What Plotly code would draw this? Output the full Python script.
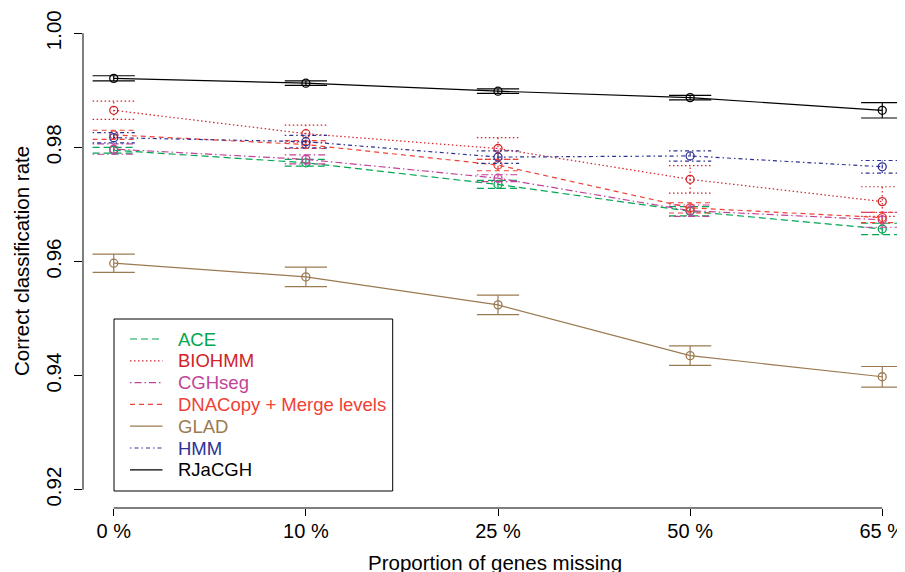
import plotly.graph_objects as go

# ---------------- data ----------------
categories = ["0 %", "10 %", "25 %", "50 %", "65 %"]
x_pos = [1, 2, 3, 4, 5]

method_names = ["ACE", "BIOHMM", "CGHseg", "DNACopy + Merge levels", "GLAD", "HMM", "RJaCGH"]

ace_rate = [0.9795, 0.9773, 0.9735, 0.9688, 0.9657]
ace_err = [0.0005, 0.0006, 0.0007, 0.0008, 0.0010]

biohmm_rate = [0.9865, 0.9824, 0.9798, 0.9744, 0.9705]
biohmm_err = [0.0016, 0.0015, 0.0019, 0.0024, 0.0026]

cghseg_rate = [0.9797, 0.9779, 0.9746, 0.9689, 0.9673]
cghseg_err = [0.0009, 0.0008, 0.0006, 0.0010, 0.0013]

dnacopy_rate = [0.9822, 0.9805, 0.9769, 0.9694, 0.9677]
dnacopy_err = [0.0008, 0.0007, 0.0010, 0.0009, 0.0009]

glad_rate = [0.9597, 0.9573, 0.9524, 0.9435, 0.9398]
glad_err = [0.0016, 0.0017, 0.0017, 0.0017, 0.0018]

hmm_rate = [0.9817, 0.9810, 0.9783, 0.9785, 0.9766]
hmm_err = [0.0009, 0.0011, 0.0011, 0.0009, 0.0011]

rjacgh_rate = [0.9921, 0.99125, 0.98985, 0.98872, 0.9865]
rjacgh_err = [0.00045, 0.0004, 0.0004, 0.0004, 0.00135]

y_ticks = [0.92, 0.94, 0.96, 0.98, 1.00]
y_tick_labels = ["0.92", "0.94", "0.96", "0.98", "1.00"]

x_title = "Proportion of genes missing"
y_title = "Correct classification rate"

# ---------------- styles ----------------
colors = ["#00A651", "#D2232A", "#C1449A", "#EF4136", "#9B7A52", "#2E3192", "#000000"]
dashes = ["7px,4px", "1.5px,2.5px", "1.5px,3px,7px,3px", "5px,4px", "solid",
          "1.5px,3px,4px,3px", "solid"]
rates = [ace_rate, biohmm_rate, cghseg_rate, dnacopy_rate, glad_rate, hmm_rate, rjacgh_rate]
errs = [ace_err, biohmm_err, cghseg_err, dnacopy_err, glad_err, hmm_err, rjacgh_err]

FONT = "Liberation Sans, Arial, Helvetica, sans-serif"
W, H = 905, 572
OFF = 8                      # page body margin offset in the browser
L, R, T, B = 75, 0, 7, 72    # plot area on screen: x 83..913, y 15..508
PW, PH = W - L - R, H - T - B
X_RANGE = [0.84, 5.16]
Y_RANGE = [0.9168, 1.0032]
CAP = 0.11  # half-width of error bar caps (x units)


def px_x(p):
    # screen pixel -> paper x
    return (p - (L + OFF)) / PW


def px_y(p):
    # screen pixel -> paper y
    return (H - B + OFF - p) / PH


fig = go.Figure()

for name, col, dsh, yv, ev in zip(method_names, colors, dashes, rates, errs):
    ex, ey = [], []
    for xi, yi, ei in zip(x_pos, yv, ev):
        ex += [xi, xi, None, xi - CAP, xi + CAP, None, xi - CAP, xi + CAP, None]
        ey += [yi - ei, yi + ei, None, yi + ei, yi + ei, None, yi - ei, yi - ei, None]
    fig.add_trace(go.Scatter(x=ex, y=ey, mode="lines", showlegend=False,
                             line=dict(color=col, width=1.2, dash=dsh),
                             hoverinfo="skip"))
    fig.add_trace(go.Scatter(x=x_pos, y=yv, mode="lines+markers", name=name,
                             showlegend=False,
                             line=dict(color=col, width=1.2, dash=dsh),
                             marker=dict(symbol="circle-open", size=8,
                                         color=col, line=dict(width=1.3, color=col))))

shapes = [
    dict(type="line", xref="x", yref="paper", x0=x_pos[0], x1=x_pos[-1], y0=0, y1=0,
         line=dict(color="black", width=1)),
    dict(type="line", xref="paper", yref="y", x0=0, x1=0, y0=y_ticks[0], y1=y_ticks[-1],
         line=dict(color="black", width=1)),
    # legend box
    dict(type="rect", xref="paper", yref="paper", x0=px_x(114), x1=px_x(392.7),
         y0=px_y(491), y1=px_y(319), line=dict(color="black", width=1),
         fillcolor="rgba(255,255,255,0)"),
]

annotations = [
    dict(text=x_title, xref="paper", yref="paper", x=px_x(495), y=px_y(562),
         xanchor="center", yanchor="middle", showarrow=False,
         font=dict(family=FONT, size=20.5, color="black")),
    dict(text=y_title, xref="paper", yref="paper", x=px_x(22), y=px_y(261),
         xanchor="center", yanchor="middle", textangle=-90, showarrow=False,
         font=dict(family=FONT, size=20.5, color="black")),
]

for i, (name, col, dsh) in enumerate(zip(method_names, colors, dashes)):
    yy = px_y(339 + i * 21.8)
    shapes.append(dict(type="line", xref="paper", yref="paper", x0=px_x(130), x1=px_x(162.5),
                       y0=yy, y1=yy, line=dict(color=col, width=1.2, dash=dsh)))
    annotations.append(dict(text=name, xref="paper", yref="paper", x=px_x(176), y=yy,
                            xanchor="left", yanchor="middle", showarrow=False,
                            font=dict(family=FONT, size=18.5, color=col)))

fig.update_layout(
    width=W, height=H,
    margin=dict(l=L, r=R, t=T, b=B, pad=0),
    paper_bgcolor="white", plot_bgcolor="white",
    showlegend=False,
    font=dict(family=FONT, size=20, color="black"),
    shapes=shapes,
    annotations=annotations,
    xaxis=dict(range=X_RANGE, tickvals=x_pos, ticktext=categories, ticks="outside",
               ticklen=7, tickwidth=1, tickcolor="black", showgrid=False, zeroline=False,
               showline=False, tickfont=dict(family=FONT, size=20, color="black"),
               ticklabelstandoff=-2, fixedrange=True),
    yaxis=dict(range=Y_RANGE, tickvals=y_ticks, ticktext=y_tick_labels, ticks="outside",
               ticklen=8, tickwidth=1, tickcolor="black", showgrid=False, zeroline=False,
               showline=False, tickangle=-90,
               tickfont=dict(family=FONT, size=20.5, color="black"),
               ticklabelstandoff=5, fixedrange=True),
)

fig.write_html("out.html")
